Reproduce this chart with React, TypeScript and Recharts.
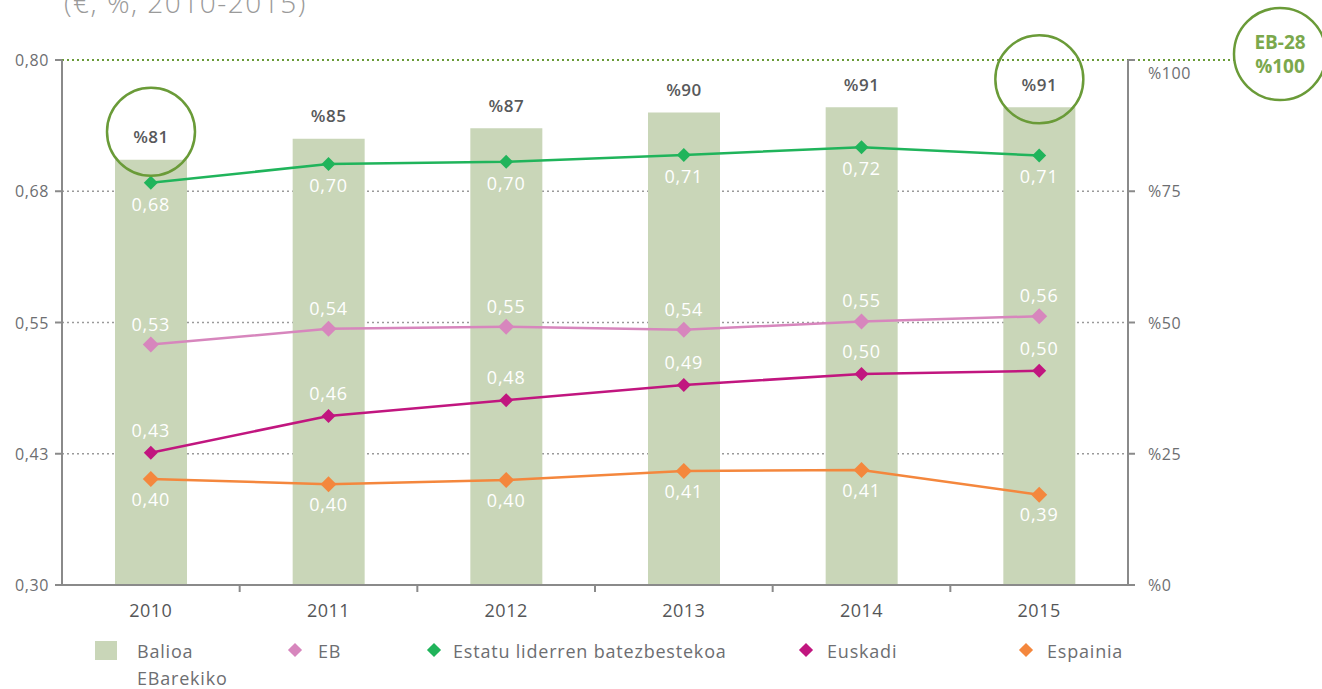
import React from 'react';
import {
  ComposedChart,
  Bar,
  Line,
  XAxis,
  YAxis,
  CartesianGrid,
  ReferenceLine,
  LabelList,
} from 'recharts';

const YEARS = ['2010', '2011', '2012', '2013', '2014', '2015'];
const BALIOA = [81, 85, 87, 90, 91, 91];
const EB = [0.529, 0.544, 0.546, 0.543, 0.551, 0.556];
const ESTATU = [0.683, 0.701, 0.703, 0.7095, 0.717, 0.709];
const EUSKADI = [0.426, 0.461, 0.476, 0.4905, 0.501, 0.504];
const ESPAINIA = [0.401, 0.396, 0.4, 0.4086, 0.4095, 0.386];

const LEFT_TICKS = [0.3, 0.425, 0.55, 0.675, 0.8];
const LEFT_TICK_LABELS = ['0,30', '0,43', '0,55', '0,68', '0,80'];
const RIGHT_TICKS = [0, 25, 50, 75, 100];
const CIRCLED = [0, 5];

const FONT = '"Open Sans", sans-serif';
const GREY = '#6d6e71';
const AXIS = '#8a8a8a';
const GREEN_RING = '#6a9b38';

const C_BAR = '#c9d6b8';
const C_EB = '#d786bd';
const C_ESTATU = '#20b45b';
const C_EUSKADI = '#c1167f';
const C_ESPAINIA = '#f4873d';

const WIDTH = 1322;
const HEIGHT = 689;
const LEFT_W = 62;
const RIGHT_W = 194;
const BAND = (WIDTH - LEFT_W - RIGHT_W) / YEARS.length;

const data = YEARS.map((year, i) => ({
  year,
  balioa: BALIOA[i],
  eb: EB[i],
  estatu: ESTATU[i],
  euskadi: EUSKADI[i],
  espainia: ESPAINIA[i],
}));

const fmt = (v: number) => v.toFixed(2).replace('.', ',');

const diamond = (color: string, r: number) => (props: any) => {
  const { cx, cy, index } = props;
  if (cx == null || cy == null) return <g key={index} />;
  return (
    <polygon
      key={index}
      points={`${cx},${cy - r} ${cx + r},${cy} ${cx},${cy + r} ${cx - r},${cy}`}
      fill={color}
    />
  );
};

const XTick = (props: any) => {
  const { x, y, payload, index } = props;
  return (
    <g>
      {index < YEARS.length - 1 && (
        <line x1={x + BAND / 2} y1={y - 8} x2={x + BAND / 2} y2={y - 1} stroke={AXIS} strokeWidth={2} />
      )}
      <text x={x} y={y + 24} textAnchor="middle" fill="#555658" fontSize={18} fontFamily={FONT} letterSpacing={0.5}>
        {payload.value}
      </text>
    </g>
  );
};

const LeftTick = (props: any) => {
  const { x, y, payload } = props;
  const label = LEFT_TICK_LABELS[LEFT_TICKS.indexOf(payload.value)] ?? fmt(payload.value);
  return (
    <text x={x - 4} y={y} textAnchor="end" dominantBaseline="central" fill={GREY} fontSize={16} fontFamily={FONT} letterSpacing={0.6}>
      {label}
    </text>
  );
};

const RightTick = (props: any) => {
  const { x, y, payload } = props;
  const dy = payload.value === 100 ? 19 : 6;
  return (
    <text x={x + 11} y={y + dy} fill={GREY} fontSize={16} fontFamily={FONT} letterSpacing={0.6}>
      {`%${payload.value}`}
    </text>
  );
};

const BarLabel = (props: any) => {
  const { x, y, width, value, index } = props;
  const cx = x + width / 2;
  const ty = y - 23;
  return (
    <g>
      {CIRCLED.includes(index) && (
        <circle cx={cx} cy={ty - 5} r={44} fill="none" stroke={GREEN_RING} strokeWidth={2.5} />
      )}
      <text
        x={cx}
        y={ty}
        textAnchor="middle"
        dominantBaseline="central"
        fill="#58595b"
        fontSize={17}
        fontWeight={600}
        fontFamily={FONT}
        letterSpacing={0.5}
      >
        {`%${value}`}
      </text>
    </g>
  );
};

const TopMarker = (props: any) => {
  const vb = props.viewBox;
  if (!vb) return null;
  const x2 = vb.x + vb.width;
  const y = vb.y;
  const cx = x2 + 152;
  const cy = y - 6;
  return (
    <g>
      <line x1={x2} y1={y} x2={cx - 46} y2={y} stroke={GREEN_RING} strokeWidth={2} strokeDasharray="2 3" />
      <circle cx={cx} cy={cy} r={46} fill="#fff" stroke={GREEN_RING} strokeWidth={2.5} />
      <text x={cx} y={cy - 12} textAnchor="middle" dominantBaseline="central" fill="#7ba84c" fontSize={19} fontWeight={700} fontFamily={FONT}>
        EB-28
      </text>
      <text x={cx} y={cy + 12} textAnchor="middle" dominantBaseline="central" fill="#7ba84c" fontSize={19} fontWeight={700} fontFamily={FONT}>
        %100
      </text>
    </g>
  );
};

const lineLabel = { fill: '#ffffff', fontSize: 18, fontFamily: FONT, letterSpacing: 0.8 };

const LEGEND = [
  { name: 'Balioa', sub: 'EBarekiko', color: C_BAR, square: true, left: 95, textLeft: 137 },
  { name: 'EB', color: C_EB, left: 290, textLeft: 318 },
  { name: 'Estatu liderren batezbestekoa', color: C_ESTATU, left: 429, textLeft: 453 },
  { name: 'Euskadi', color: C_EUSKADI, left: 801, textLeft: 827 },
  { name: 'Espainia', color: C_ESPAINIA, left: 1021, textLeft: 1047 },
];

export default function App() {
  return (
    <div
      style={{
        position: 'absolute',
        left: 0,
        top: 0,
        width: WIDTH,
        height: HEIGHT,
        background: '#fff',
        overflow: 'hidden',
        fontFamily: FONT,
      }}
    >
      <div
        style={{
          position: 'absolute',
          left: 64,
          top: -17,
          fontSize: 28,
          fontWeight: 300,
          color: '#9a9a9a',
          letterSpacing: 1.5,
        }}
      >
        (€, %, 2010-2015)
      </div>
      <ComposedChart
        width={WIDTH}
        height={HEIGHT}
        data={data}
        margin={{ top: 60, right: 0, bottom: 64, left: 0 }}
        barGap={0}
      >
        <CartesianGrid
          yAxisId="left"
          horizontal
          vertical={false}
          stroke="#9a9a9a"
          strokeDasharray="2 3"
          strokeWidth={1.5}
        />
        <XAxis
          dataKey="year"
          height={40}
          axisLine={{ stroke: AXIS, strokeWidth: 2 }}
          tickLine={false}
          tick={<XTick />}
          interval={0}
        />
        <YAxis
          yAxisId="left"
          width={LEFT_W}
          domain={[0.3, 0.8]}
          ticks={LEFT_TICKS}
          interval={0}
          axisLine={{ stroke: AXIS, strokeWidth: 2 }}
          tickLine={{ stroke: AXIS, strokeWidth: 2 }}
          tickSize={7}
          tick={<LeftTick />}
        />
        <YAxis
          yAxisId="right"
          orientation="right"
          width={RIGHT_W}
          domain={[0, 100]}
          ticks={RIGHT_TICKS}
          interval={0}
          axisLine={{ stroke: AXIS, strokeWidth: 2 }}
          tickLine={{ stroke: AXIS, strokeWidth: 2 }}
          tickSize={7}
          tick={<RightTick />}
        />
        <ReferenceLine
          yAxisId="left"
          y={0.8}
          stroke={GREEN_RING}
          strokeWidth={2}
          strokeDasharray="2 3"
          label={<TopMarker />}
        />
        <Bar yAxisId="right" dataKey="balioa" name="Balioa EBarekiko" fill={C_BAR} barSize={72} isAnimationActive={false}>
          <LabelList dataKey="balioa" content={<BarLabel />} />
        </Bar>
        <Line
          yAxisId="left"
          dataKey="eb"
          name="EB"
          stroke={C_EB}
          strokeWidth={2.5}
          dot={diamond(C_EB, 8)}
          activeDot={false}
          isAnimationActive={false}
        >
          <LabelList dataKey="eb" position="top" offset={14} formatter={fmt} style={lineLabel} />
        </Line>
        <Line
          yAxisId="left"
          dataKey="estatu"
          name="Estatu liderren batezbestekoa"
          stroke={C_ESTATU}
          strokeWidth={2.5}
          dot={diamond(C_ESTATU, 7)}
          activeDot={false}
          isAnimationActive={false}
        >
          <LabelList dataKey="estatu" position="bottom" offset={15} formatter={fmt} style={lineLabel} />
        </Line>
        <Line
          yAxisId="left"
          dataKey="euskadi"
          name="Euskadi"
          stroke={C_EUSKADI}
          strokeWidth={2.5}
          dot={diamond(C_EUSKADI, 7)}
          activeDot={false}
          isAnimationActive={false}
        >
          <LabelList dataKey="euskadi" position="top" offset={16} formatter={fmt} style={lineLabel} />
        </Line>
        <Line
          yAxisId="left"
          dataKey="espainia"
          name="Espainia"
          stroke={C_ESPAINIA}
          strokeWidth={2.5}
          dot={diamond(C_ESPAINIA, 8)}
          activeDot={false}
          isAnimationActive={false}
        >
          <LabelList dataKey="espainia" position="bottom" offset={14} formatter={fmt} style={lineLabel} />
        </Line>
      </ComposedChart>
      {LEGEND.map((item) => (
        <React.Fragment key={item.name}>
          {item.square ? (
            <div
              style={{
                position: 'absolute',
                left: item.left,
                top: 641,
                width: 22,
                height: 19,
                background: item.color,
              }}
            />
          ) : (
            <div
              style={{
                position: 'absolute',
                left: item.left,
                top: 645,
                width: 10,
                height: 10,
                background: item.color,
                transform: 'rotate(45deg)',
              }}
            />
          )}
          <div
            style={{
              position: 'absolute',
              left: item.textLeft,
              top: 638,
              fontSize: 18,
              lineHeight: '27px',
              letterSpacing: 0.8,
              color: GREY,
              whiteSpace: 'nowrap',
            }}
          >
            {item.name}
            {item.sub && <br />}
            {item.sub}
          </div>
        </React.Fragment>
      ))}
    </div>
  );
}
